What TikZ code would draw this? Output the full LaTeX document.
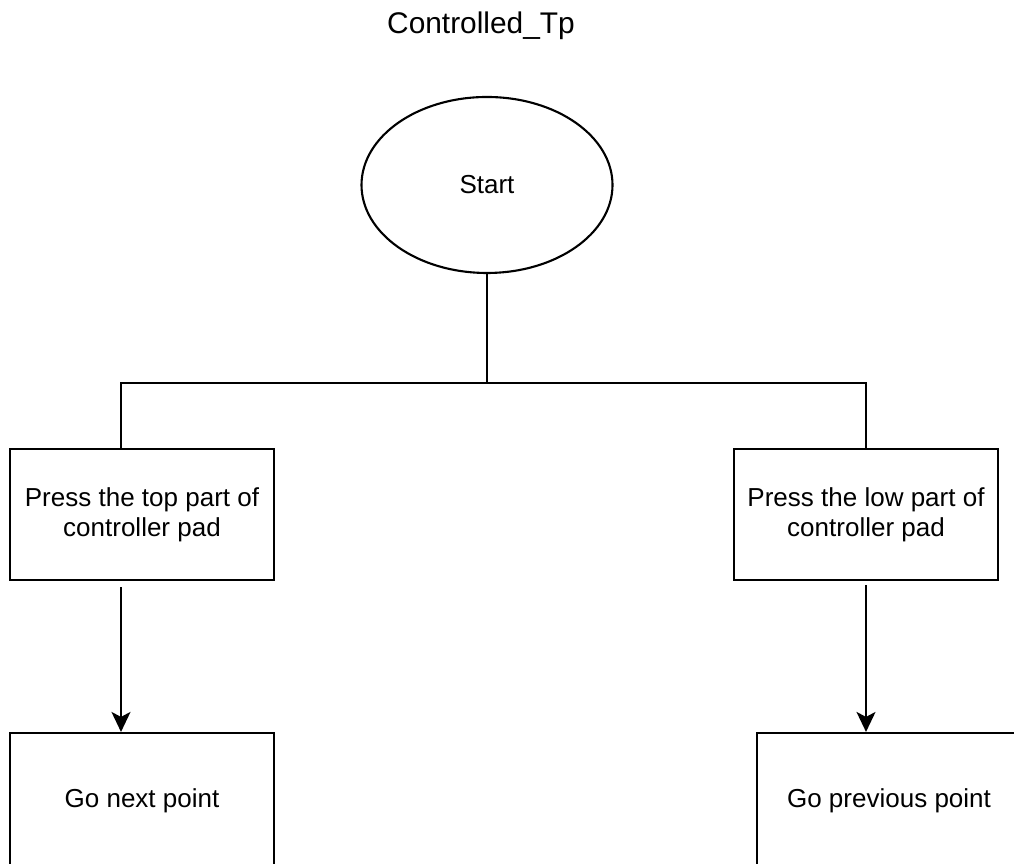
\documentclass[tikz,border=0pt]{standalone}
\usepackage{fontspec}
\setmainfont{Liberation Sans}
\usetikzlibrary{arrows.meta,positioning,shapes.geometric,calc}

\begin{document}
\begin{tikzpicture}[
    box/.style={rectangle, draw, line width=0.6pt, minimum width=2.64cm, minimum height=1.31cm, align=center, font=\fontsize{7.4}{8.5}\selectfont},
    oval/.style={ellipse, draw, line width=0.6pt, minimum width=2.51cm, minimum height=1.76cm, font=\fontsize{7.4}{8.5}\selectfont},
    link/.style={line width=0.6pt},
    arrow/.style={-{Stealth[length=0.2cm, width=0.19cm, inset=0.05cm]}, line width=0.6pt}
]
    \useasboundingbox (0,0) rectangle (10.14,8.64);
    \clip (0,0) rectangle (10.14,8.64);

    % Title
    \node[font=\fontsize{8.5}{10}\selectfont, anchor=base] (title) at (4.81,8.30) {Controlled\_Tp};

    % Start
    \node[oval] (start) at (4.87,6.79) {Start};

    % Controller pad
    \node[box] (pressTop) at (1.42,3.495) {Press the top part of\\controller pad};
    \node[box] (pressLow) at (8.66,3.495) {Press the low part of\\controller pad};

    % Results (run off the page edge)
    \node[box, minimum height=1.36cm] (goNext) at (1.42,0.63) {Go next point};
    \node[box, minimum height=1.36cm] (goPrev) at (8.89,0.63) {Go previous point};

    % Branch points
    \coordinate (split) at (4.87,4.81);
    \coordinate (leftdrop) at (1.21,4.81);
    \coordinate (rightdrop) at (pressLow.north |- split);

    % Lines
    \draw[link] (start) -- (split);
    \draw[link] (leftdrop |- pressTop.north) -- (leftdrop) -- (rightdrop) -- (pressLow.north);

    % Arrows
    \draw[arrow] ([yshift=-0.06cm]pressTop.south -| leftdrop) -- (leftdrop |- goNext.north);
    \draw[arrow] ([yshift=-0.04cm]pressLow.south) -- (pressLow.south |- goPrev.north);

\end{tikzpicture}
\end{document}
